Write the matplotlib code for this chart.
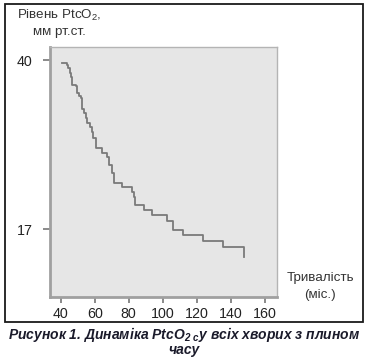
import matplotlib
matplotlib.use("Agg")
import matplotlib.pyplot as plt
from matplotlib.patches import Rectangle

plt.rcParams['font.family'] = ['Liberation Sans', 'DejaVu Sans']
plt.rcParams['mathtext.fontset'] = 'custom'
plt.rcParams['mathtext.rm'] = 'Liberation Sans'
plt.rcParams['mathtext.bfit'] = 'Liberation Sans:italic:bold'

# step curve (months, PtcO2 mm Hg)
months = [41.0, 43.5, 44.5, 45.4, 46.0, 46.8, 48.8, 49.8, 50.8, 51.7, 52.7,
          53.5, 54.6, 55.5, 57.5, 58.3, 59.1, 60.5, 64.4, 67.3, 68.2, 70.2,
          71.2, 76.1, 81.9, 82.9, 83.9, 88.7, 93.6, 102.4, 106.3, 112.1,
          113.1, 123.8, 135.5, 147.6]
ptco2 = [39.6, 39.3, 38.9, 38.3, 37.7, 36.6, 36.5, 35.5, 35.1, 34.8, 33.4,
         32.8, 32.1, 31.5, 30.9, 30.2, 29.4, 28.0, 27.3, 26.8, 25.7, 24.6,
         23.3, 22.8, 22.1, 21.4, 20.3, 19.6, 18.9, 18.1, 16.9, 16.2,
         16.2, 15.4, 14.5, 13.2]
xticks = [40, 60, 80, 100, 120, 140, 160]
yticks = [17, 40]

W, H = 369, 361
fig = plt.figure(figsize=(W / 100, H / 100), dpi=100)

# outer frame
fig.patches.append(Rectangle((4.5 / W, 1 - 322 / H), 358 / W, 318.5 / H,
                             transform=fig.transFigure, fill=False,
                             edgecolor='#1a1a1a', linewidth=1.3))

ax = fig.add_axes([49.5 / W, 1 - 297 / H, 227 / W, 250 / H])
ax.set_facecolor('#e6e6e6')
ax.step(months, ptco2, where='post', color='#7a7a7a', linewidth=1.3)

ax.set_xlim(33.4, 166.9)
ax.set_ylim(7.75, 41.8)
ax.set_xticks(xticks)
ax.set_yticks(yticks)
ax.tick_params(axis='x', direction='out', length=4, width=1.2, color='#777777',
               labelsize=10.3, labelcolor='#222222', pad=3)
ax.tick_params(axis='y', direction='out', length=5, width=1.2, color='#777777',
               labelsize=10.3, labelcolor='#222222', pad=7)
for s in ['left', 'bottom']:
    ax.spines[s].set_color('#a0a0a0')
    ax.spines[s].set_linewidth(2)
for s in ['top', 'right']:
    ax.spines[s].set_color('#b4b4b4')
    ax.spines[s].set_linewidth(1)

fig.text(17 / W, 1 - 15 / H, 'Рівень PtcO$_2$,', fontsize=9.6, color='#333333',
         va='center', ha='left')
fig.text(33 / W, 1 - 32 / H, 'мм рт.ст.', fontsize=9.6, color='#333333',
         va='center', ha='left')
fig.text(320 / W, 1 - 278 / H, 'Тривалість', fontsize=9.6, color='#333333',
         va='center', ha='center')
fig.text(320 / W, 1 - 295 / H, '(міс.)', fontsize=9.6, color='#333333',
         va='center', ha='center')

fig.text(184 / W, 1 - 335 / H,
         r'Рисунок 1. Динаміка PtcO$_{\mathbfit{2\ с}}$у всіх хворих з плином',
         fontsize=10, fontweight='bold', fontstyle='italic', color='#1a1a2a',
         va='center', ha='center')
fig.text(184 / W, 1 - 350 / H, 'часу', fontsize=10, fontweight='bold',
         fontstyle='italic', color='#1a1a2a', va='center', ha='center')

fig.savefig('out.png', dpi=100)
